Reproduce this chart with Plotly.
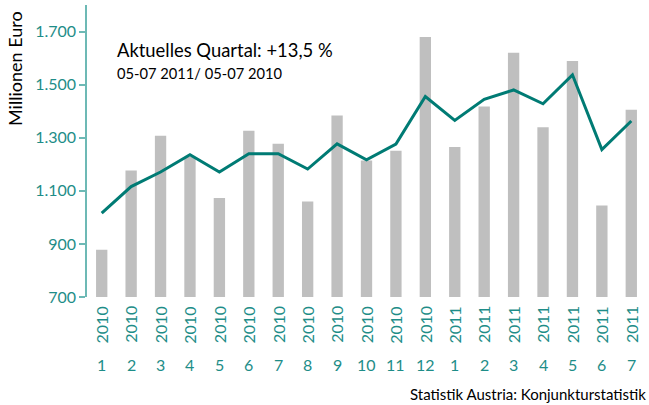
import plotly.graph_objects as go

years = ["2010"] * 12 + ["2011"] * 7
months = ["1", "2", "3", "4", "5", "6", "7", "8", "9", "10", "11", "12",
          "1", "2", "3", "4", "5", "6", "7"]
bar_values = [878, 1177, 1307, 1228, 1073, 1326, 1277, 1060, 1384, 1214, 1251, 1679,
              1265, 1418, 1620, 1339, 1589, 1045, 1405]
line_values = [1016, 1116, 1171, 1236, 1171, 1240, 1240, 1182, 1277, 1217, 1276, 1455,
               1365, 1445, 1480, 1428, 1537, 1255, 1363]
y_tickvals = [700, 900, 1100, 1300, 1500, 1700]
y_ticktext = ["700", "900", "1.100", "1.300", "1.500", "1.700"]

x = list(range(len(months)))

FONT = "Lato"
TEAL_TXT = "#1e8d88"
AXIS_COL = "#6db9b5"

fig = go.Figure()
fig.add_trace(go.Bar(x=x, y=bar_values, marker=dict(color="#bfbfbf", line=dict(width=0))))
fig.add_trace(go.Scatter(x=x, y=line_values, mode="lines",
                         line=dict(color="#007b74", width=3)))

annotations = []
for i in x:
    annotations.append(dict(x=i, y=-0.095, xref="x", yref="paper", text=years[i],
                            textangle=-90, showarrow=False, xanchor="center", yanchor="middle",
                            font=dict(family=FONT, size=16, color=TEAL_TXT)))
    annotations.append(dict(x=i, y=-0.232, xref="x", yref="paper", text=months[i],
                            showarrow=False, xanchor="center", yanchor="middle",
                            font=dict(family=FONT, size=16, color=TEAL_TXT)))

annotations += [
    dict(x=-0.129, y=0.784, xref="paper", yref="paper", text="Millionen Euro",
         textangle=-90, showarrow=False, xanchor="center", yanchor="middle",
         font=dict(family=FONT, size=18, color="#000000")),
    dict(x=(115 - 87) / 559, y=(297.3 - 50) / 292.3, xref="paper", yref="paper",
         text="Aktuelles Quartal: +13,5 %", showarrow=False, xanchor="left", yanchor="middle",
         font=dict(family=FONT, size=18.4, color="#000000")),
    dict(x=(115 - 87) / 559, y=(297.3 - 73) / 292.3, xref="paper", yref="paper",
         text="05-07 2011/ 05-07 2010", showarrow=False, xanchor="left", yanchor="middle",
         font=dict(family=FONT, size=14.7, color="#000000")),
    dict(x=(648 - 87) / 559, y=(297.3 - 394) / 292.3, xref="paper", yref="paper",
         text="Statistik Austria: Konjunkturstatistik", showarrow=False,
         xanchor="right", yanchor="middle",
         font=dict(family=FONT, size=15, color="#000000")),
]

fig.update_layout(
    width=649, height=405,
    margin=dict(l=87, r=3, t=5, b=108, pad=0),
    paper_bgcolor="white", plot_bgcolor="white",
    showlegend=False,
    bargap=0.615,
    annotations=annotations,
    xaxis=dict(range=[-0.5, 18.5], showticklabels=False, showgrid=False, zeroline=False,
               showline=False, ticks=""),
    yaxis=dict(range=[700, 1800], tickvals=y_tickvals, ticktext=y_ticktext,
               showgrid=False, zeroline=False, showline=True, linecolor=AXIS_COL,
               linewidth=1.5, ticks="outside", ticklen=6, tickcolor=AXIS_COL, tickwidth=1.5,
               tickfont=dict(family=FONT, size=16, color=TEAL_TXT)),
)

fig.write_html("out.html", config={"displayModeBar": False},
               post_script="document.body.style.margin='0';document.body.style.overflow='hidden';")
